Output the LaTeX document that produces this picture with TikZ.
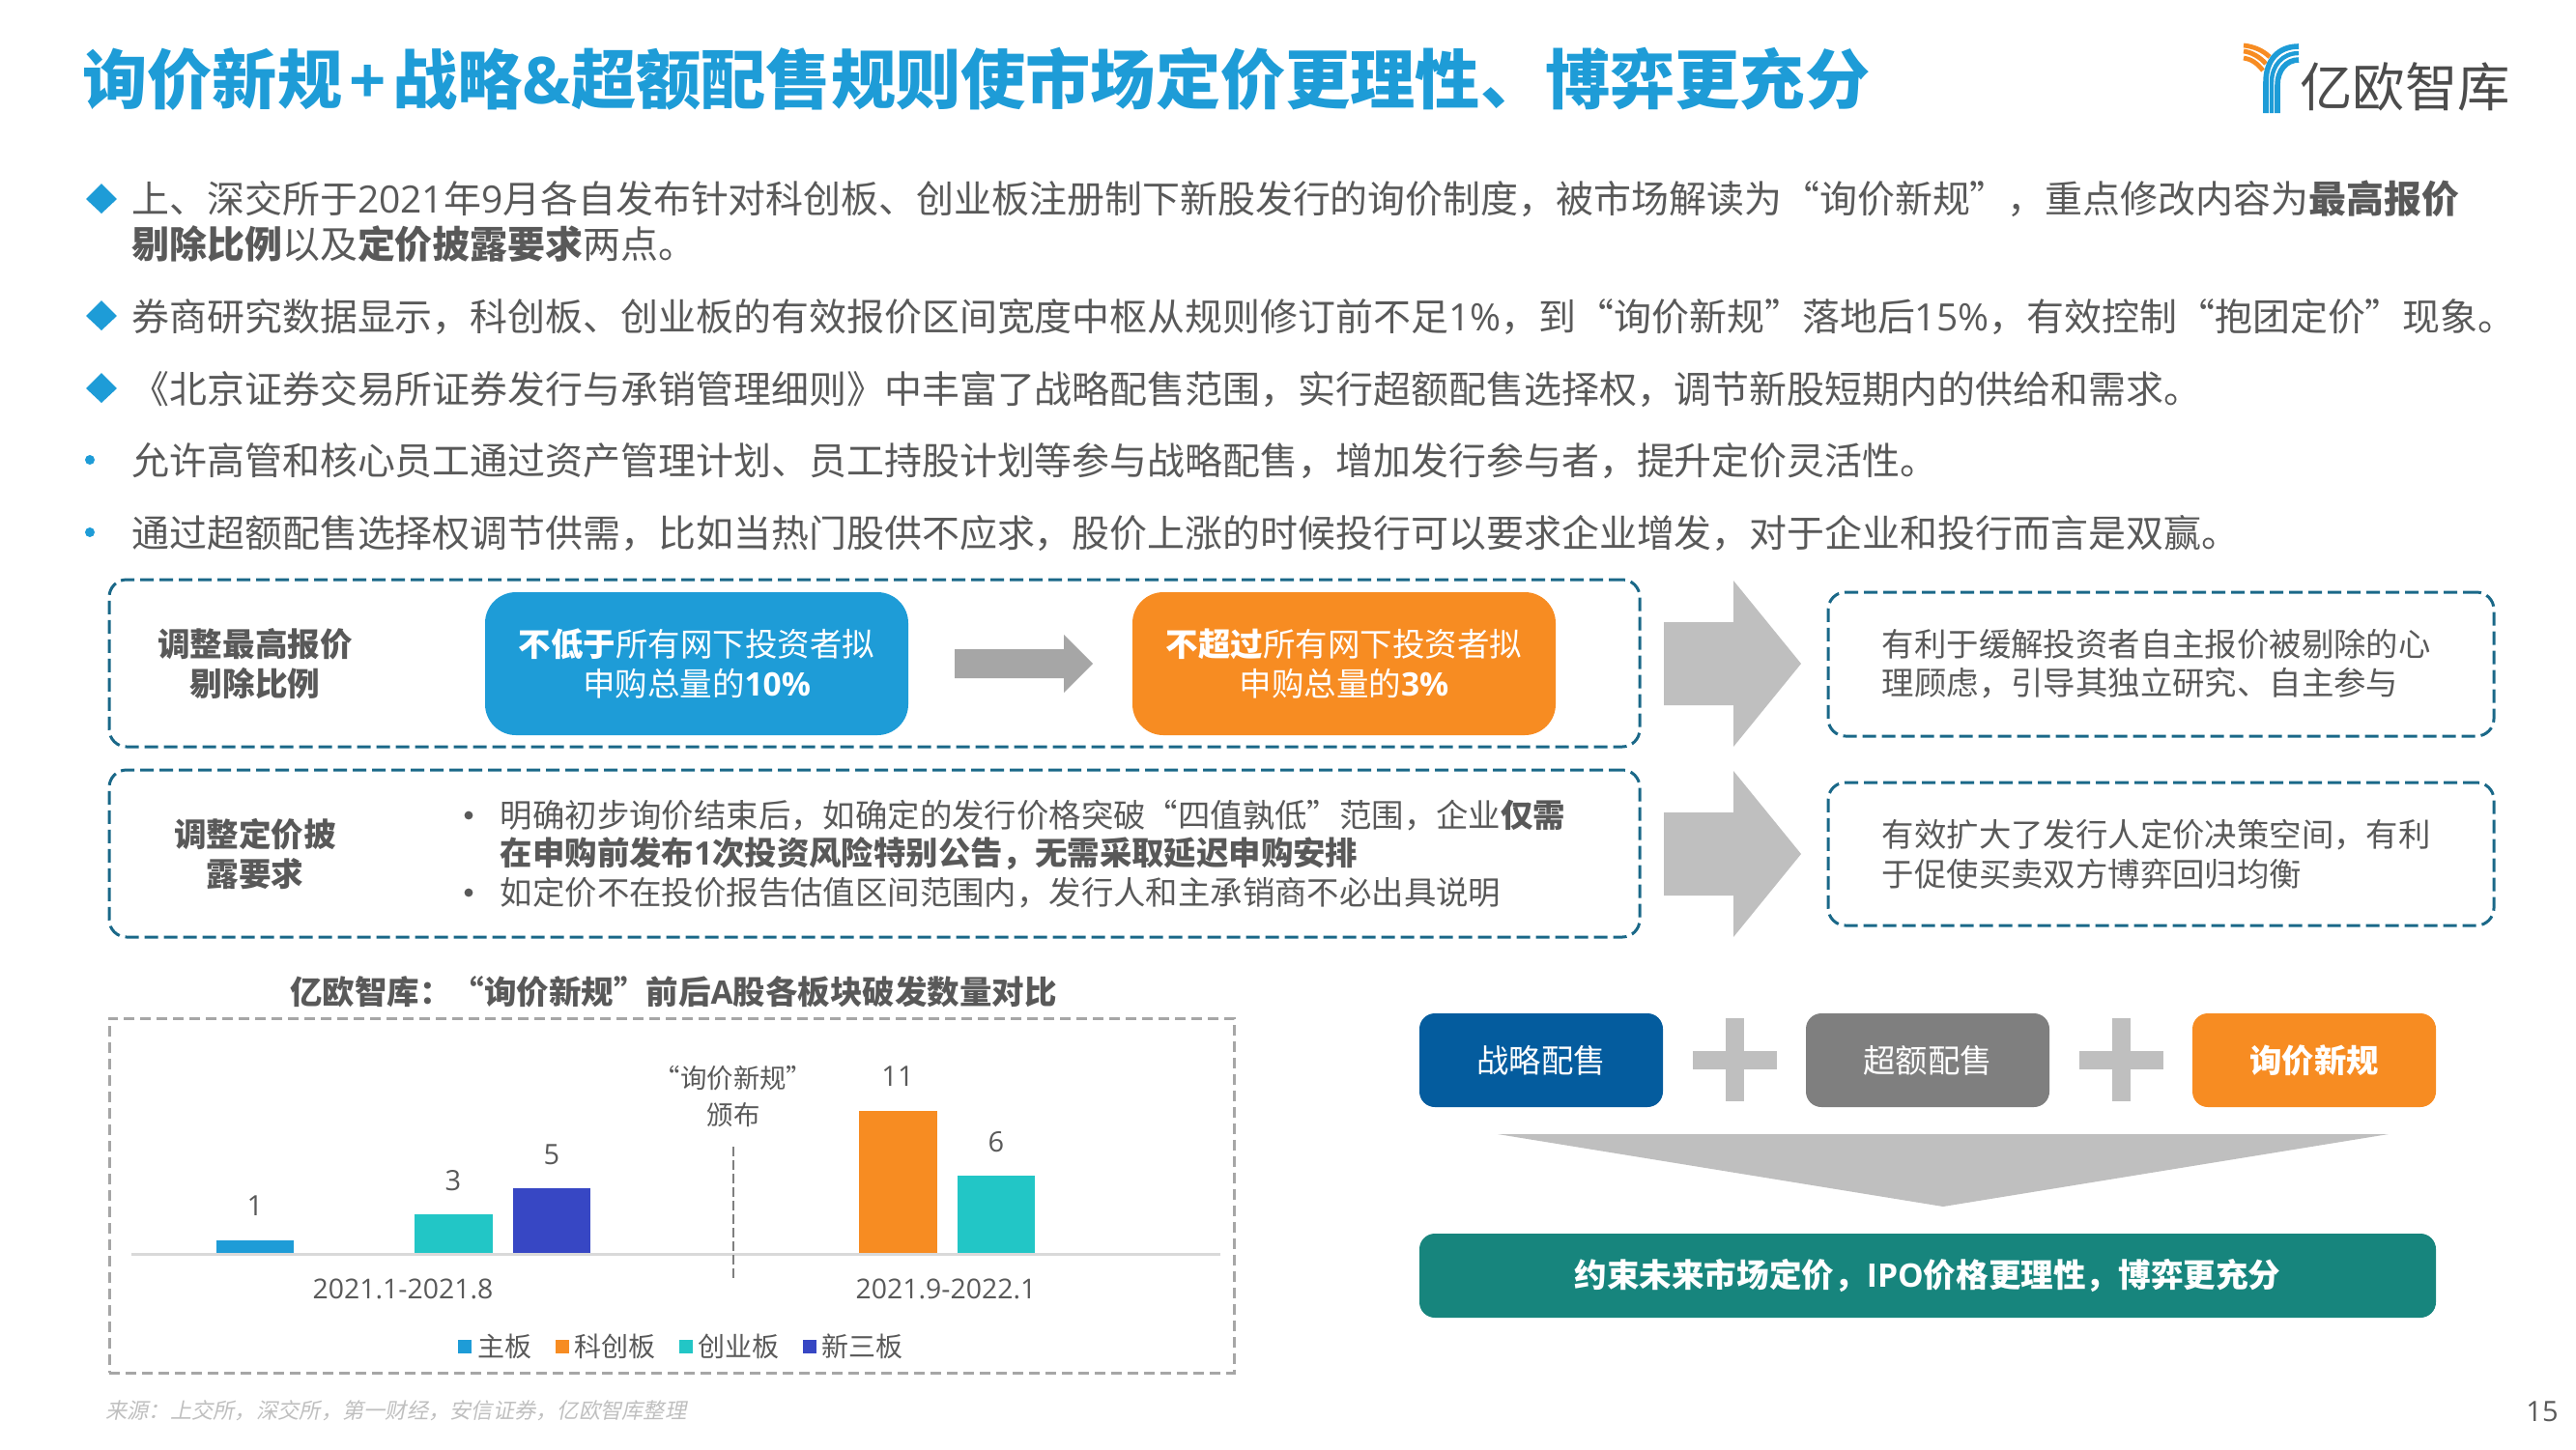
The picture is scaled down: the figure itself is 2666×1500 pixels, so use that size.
\documentclass[tikz,border=0pt]{standalone}
\usepackage{fontspec}
\setmainfont{Noto Sans CJK SC}
\newfontfamily\latinfont{Open Sans}
\newfontfamily\slantfont[FakeSlant=0.2]{Noto Sans CJK SC}
\newcommand{\lat}[1]{{\latinfont #1}}
\definecolor{skyblue}{RGB}{30, 156, 215}
\definecolor{tangerine}{RGB}{247, 140, 34}
\definecolor{deepsea}{RGB}{4, 92, 158}
\definecolor{tealgreen}{RGB}{23, 133, 125}
\definecolor{aqua}{RGB}{34, 198, 198}
\definecolor{indigo}{RGB}{55, 71, 196}
\definecolor{dashteal}{RGB}{26, 104, 136}
\definecolor{bodygray}{RGB}{89, 89, 89}
\definecolor{arrowgray}{RGB}{191, 191, 191}
\definecolor{midgray}{RGB}{127, 127, 127}
\tikzset{
    bodyline/.style  ={anchor=west, inner sep=0pt, text=bodygray, font=\fontsize{19.47}{24}\selectfont},
    boxline/.style   ={anchor=west, inner sep=0pt, text=bodygray, font=\fontsize{16.7}{20}\selectfont},
    sidelabel/.style ={inner sep=0pt, align=center, text=bodygray, font=\fontsize{16.8}{20.2}\selectfont\bfseries},
    dashbox/.style   ={draw=dashteal, line width=1.5pt, dash pattern=on 7pt off 3pt, rounded corners=9pt, inner sep=0pt},
    solidbox/.style  ={rounded corners=16pt, inner sep=0pt, align=center, text=white, font=\fontsize{16.75}{20.2}\selectfont, minimum width=219pt, minimum height=74pt},
    tagbox/.style    ={rounded corners=8pt, inner sep=0pt, text=white, font=\fontsize{16.7}{20}\selectfont, minimum width=126pt, minimum height=48.5pt},
    barlabel/.style  ={inner sep=0pt, text=bodygray, font=\fontsize{14.5}{17}\selectfont\latinfont},
    legendtext/.style={anchor=west, inner sep=0pt, text=bodygray, font=\fontsize{14}{17}\selectfont},
}
\begin{document}
\begin{tikzpicture}[x=0.5pt, y=-0.5pt]
            \useasboundingbox (0,0) rectangle (2666,1500);
            % title and logo
            \node[anchor=west, inner sep=0pt, text=skyblue, font=\fontsize{33.6}{40}\selectfont\bfseries] (title) at (85,82)
                {询价新规\kern3.5pt\lat{+}\kern3.5pt战略\lat{\&}超额配售规则使市场定价更理性、博弈更充分};
            \draw[tangerine, line width=2.4pt] (2322,47) .. controls (2332,48) and (2342,52) .. (2349,59);
            \draw[tangerine, line width=2.4pt] (2322,53) .. controls (2330,54) and (2339,59) .. (2345,66);
            \draw[tangerine, line width=2.4pt] (2322,60) .. controls (2329,61) and (2336,65) .. (2342,73);
            \draw[skyblue, line width=2.8pt] (2345,117) -- (2345,85) .. controls (2345,62) and (2358,48) .. (2379,48);
            \draw[skyblue, line width=2.2pt] (2351,117) -- (2351,85) .. controls (2351,68) and (2362,55) .. (2379,55);
            \draw[skyblue, line width=2.8pt] (2357,117) -- (2357,88) .. controls (2357,73) and (2366,62) .. (2379,62);
            \node[anchor=west, inner sep=0pt, text=bodygray!85!black, font=\fontsize{27.2}{30}\selectfont] (logotext) at (2380,90) {亿欧智库};

            % bullet marks
            \fill[skyblue] (105,190) -- (121,206) -- (105,221) -- (89,206) -- cycle;
            \fill[skyblue] (105,311) -- (121,327) -- (105,342) -- (89,327) -- cycle;
            \fill[skyblue] (105,386) -- (121,402) -- (105,417) -- (89,402) -- cycle;
            \fill[skyblue] (93,476) circle (2.5pt);
            \fill[skyblue] (93,551) circle (2.5pt);

            % body text
            \node[bodyline] (lineone)   at (136,206) {上、深交所于\lat{2021}年\lat{9}月各自发布针对科创板、创业板注册制下新股发行的询价制度，被市场解读为“询价新规”，重点修改内容为\textbf{最高报价}};
            \node[bodyline] (linetwo)   at (136,253) {\textbf{剔除比例}以及\textbf{定价披露要求}两点。};
            \node[bodyline] (linethree) at (136,328) {券商研究数据显示，科创板、创业板的有效报价区间宽度中枢从规则修订前不足\lat{1\%}，到“询价新规”落地后\lat{15\%}，有效控制“抱团定价”现象。};
            \node[bodyline] (linefour)  at (136,403) {《北京证券交易所证券发行与承销管理细则》中丰富了战略配售范围，实行超额配售选择权，调节新股短期内的供给和需求。};
            \node[bodyline] (linefive)  at (136,477) {允许高管和核心员工通过资产管理计划、员工持股计划等参与战略配售，增加发行参与者，提升定价灵活性。};
            \node[bodyline] (linesix)   at (136,552) {通过超额配售选择权调节供需，比如当热门股供不应求，股价上涨的时候投行可以要求企业增发，对于企业和投行而言是双赢。};

            % dashed panels
            \node[dashbox, minimum width=792pt, minimum height=86.5pt] (ratiopanel)  at (905,686.5) {};
            \node[dashbox, minimum width=792pt, minimum height=86.5pt] (pricepanel)  at (905,883.5) {};
            \node[dashbox, minimum width=344.5pt, minimum height=74.5pt] (ratiogain) at (2236.5,687.5) {};
            \node[dashbox, minimum width=344.5pt, minimum height=74pt]   (pricegain) at (2236.5,884) {};

            \node[sidelabel] (ratiolabel) at (264,687) {调整最高报价\\剔除比例};
            \node[sidelabel] (pricelabel) at (264,884) {调整定价披\\露要求};

            \node[solidbox, fill=skyblue]   (oldrule) at (721,687)  {\textbf{不低于}所有网下投资者拟\\申购总量的\textbf{\lat{10\%}}};
            \node[solidbox, fill=tangerine] (newrule) at (1391,687) {\textbf{不超过}所有网下投资者拟\\申购总量的\textbf{\lat{3\%}}};
            \fill[black!35] (988,672) -- (1101,672) -- (1101,657) -- (1131,687) -- (1101,717) -- (1101,702) -- (988,702) -- cycle;

            \fill[bodygray] (485,844) circle (2.2pt);
            \fill[bodygray] (485,924) circle (2.2pt);
            \node[boxline] (pointone)   at (517.5,844) {明确初步询价结束后，如确定的发行价格突破“四值孰低”范围，企业\textbf{仅需}};
            \node[boxline] (pointtwo)   at (517.5,884) {\textbf{在申购前发布\lat{1}次投资风险特别公告，无需采取延迟申购安排}};
            \node[boxline] (pointthree) at (517.5,924) {如定价不在投价报告估值区间范围内，发行人和主承销商不必出具说明};

            \fill[arrowgray] (1722,644) -- (1794,644) -- (1794,601) -- (1864,687) -- (1794,773) -- (1794,730) -- (1722,730) -- cycle;
            \fill[arrowgray] (1722,841) -- (1794,841) -- (1794,798) -- (1864,884) -- (1794,970) -- (1794,927) -- (1722,927) -- cycle;

            \node[boxline] (gainone)   at (1947.5,667) {有利于缓解投资者自主报价被剔除的心};
            \node[boxline] (gaintwo)   at (1947.5,707) {理顾虑，引导其独立研究、自主参与};
            \node[boxline] (gainthree) at (1947.5,864) {有效扩大了发行人定价决策空间，有利};
            \node[boxline] (gainfour)  at (1947.5,905) {于促使买卖双方博弈回归均衡};

            % chart
            \node[inner sep=0pt, text=bodygray, font=\fontsize{16.75}{20}\selectfont\bfseries] (charttitle) at (697,1027)
                {亿欧智库：“询价新规”前后\lat{A}股各板块破发数量对比};
            \node[draw=black!35, line width=1.5pt, dash pattern=on 5.5pt off 3pt, inner sep=0pt, minimum width=582pt, minimum height=183.5pt] (chartframe) at (695,1237.5) {};
            \coordinate (axisleft)  at (136,1298);
            \coordinate (axisright) at (1263,1298);
            \coordinate (splittop)  at (759,1187);
            \coordinate (splitend)  at (759,1325);
            \draw[black!15, line width=1.5pt] (axisleft) -- (axisright);
            \draw[midgray, line width=0.8pt, dash pattern=on 5pt off 2pt] (splittop) -- (splitend);
            \fill[skyblue]   (224,1284) rectangle (304,1297);
            \fill[aqua]      (429,1257) rectangle (510,1297);
            \fill[indigo]    (531,1230) rectangle (611,1297);
            \fill[tangerine] (889,1150) rectangle (970,1297);
            \fill[aqua]      (991,1217) rectangle (1071,1297);
            \node[barlabel] (barone)    at (264,1248)  {1};
            \node[barlabel] (barthree)  at (469,1222)  {3};
            \node[barlabel] (barfive)   at (571,1195)  {5};
            \node[barlabel] (bareleven) at (929,1114)  {11};
            \node[barlabel] (barsix)    at (1031,1182) {6};
            \node[barlabel, font=\fontsize{14.2}{17}\selectfont\latinfont] (periodone) at (417,1334) {2021.1-2021.8};
            \node[barlabel, font=\fontsize{14.2}{17}\selectfont\latinfont] (periodtwo) at (979,1334) {2021.9-2022.1};
            \node[inner sep=0pt, align=center, text=bodygray, font=\fontsize{13.7}{19}\selectfont] (marktext) at (759,1135) {“询价新规”\\颁布};
            \fill[skyblue]   (474,1387) rectangle (488,1401);
            \fill[tangerine] (575,1387) rectangle (589,1401);
            \fill[aqua]      (703,1387) rectangle (717,1401);
            \fill[indigo]    (831,1387) rectangle (845,1401);
            \node[legendtext] (legendmain)  at (494,1394) {主板};
            \node[legendtext] (legendstar)  at (594,1394) {科创板};
            \node[legendtext] (legendgem)   at (722,1394) {创业板};
            \node[legendtext] (legendthree) at (850,1394) {新三板};

            % right summary
            \node[tagbox, fill=deepsea]            (strategic) at (1595,1097.5) {战略配售};
            \node[tagbox, fill=midgray]            (overallot) at (1995,1097.5) {超额配售};
            \node[tagbox, fill=tangerine, font=\fontsize{16.7}{20}\selectfont\bfseries] (inquiry) at (2395,1097.5) {询价新规};
            \fill[arrowgray] (1752,1088) rectangle (1839,1107);
            \fill[arrowgray] (1786,1054) rectangle (1805,1140);
            \fill[arrowgray] (2152,1088) rectangle (2239,1107);
            \fill[arrowgray] (2186,1054) rectangle (2205,1140);
            \fill[arrowgray] (1550,1174) -- (2472,1174) -- (2011,1249) -- cycle;
            \node[tagbox, fill=tealgreen, minimum width=526pt, minimum height=43.5pt, font=\fontsize{16.8}{20}\selectfont\bfseries] (outcome) at (1995,1320.5)
                {约束未来市场定价，\lat{IPO}价格更理性，博弈更充分};

            % footer
            \node[anchor=west, inner sep=0pt, text=arrowgray, font=\fontsize{11.13}{14}\selectfont\slantfont] (source) at (109,1460) {来源：上交所，深交所，第一财经，安信证券，亿欧智库整理};
            \node[anchor=east, inner sep=0pt, text=bodygray, font=\fontsize{14.5}{17}\selectfont\latinfont] (pagenum) at (2648,1461) {15};
\end{tikzpicture}
\end{document}
